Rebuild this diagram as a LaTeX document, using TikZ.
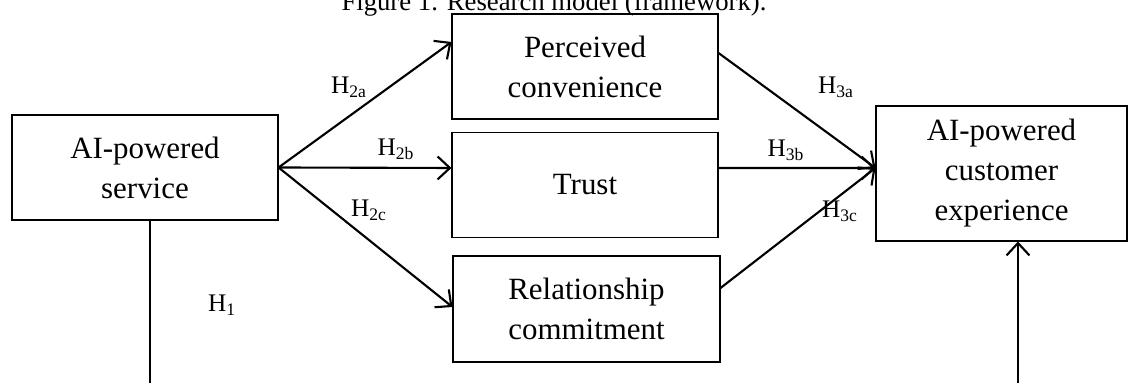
\documentclass[tikz,border=0pt]{standalone}
\usepackage{fontspec}
\setmainfont{Liberation Serif}
\usetikzlibrary{arrows.meta}

\begin{document}
\begin{tikzpicture}[
        every node/.style={font=\fontsize{17.6}{22.8}\selectfont},
        box/.style={draw, line width=0.6pt, align=center, minimum width=5.32cm, minimum height=2.1cm, inner sep=0pt},
        link/.style={-{Straight Barb[length=7pt, width=13pt, line width=1.2pt]}, line width=1.2pt},
        hyp/.style={font=\fontsize{14.4}{16}\selectfont}
    ]

    \useasboundingbox (0,0) rectangle (22.56,7.66);

    % Title, cut off by the top edge
    \node[anchor=base, font=\fontsize{15.2}{18}\selectfont] (title) at (11.08,7.44) {Figure 1. Research model (framework).};

    % Boxes
    \node[box] (svc) at (2.90,4.31) {AI-powered\\service};
    \node[box] (conv) at (11.70,6.33) {Perceived\\convenience};
    \node[box] (trust) at (11.70,3.96) {Trust};
    \node[box, minimum width=5.34cm, minimum height=2.12cm] (commit) at (11.73,1.48) {Relationship\\commitment};
    \node[box, minimum width=5.02cm, minimum height=2.7cm] (cx) at (20.03,4.19) {AI-powered\\customer\\experience};

    % Paths through the mediators
    \draw[link] (svc.east) -- ([yshift=0.49cm]conv.west);
    \draw[link] (svc.east) -- ([yshift=0.34cm]trust.west);
    \draw[link] (svc.east) -- ([yshift=0.04cm]commit.west);
    \draw[link] ([yshift=0.27cm]conv.east) -- ([yshift=0.11cm]cx.west);
    \draw[link] ([yshift=0.34cm]trust.east) -- ([yshift=0.11cm]cx.west);
    \draw[link] ([yshift=0.42cm]commit.east) -- ([yshift=0.11cm]cx.west);

    % Direct path, running below the frame
    \coordinate (svcfoot) at (3.00,0);
    \coordinate (cxfoot) at (20.36,0);
    \draw[line width=0.8pt] (svcfoot |- svc.south) -- (svcfoot);
    \draw[link] (cxfoot) -- (cxfoot |- cx.south);

    % Hypothesis labels
    \node[hyp] (h1) at (4.44,1.56) {H\textsubscript{1}};
    \node[hyp] (h2a) at (6.98,5.92) {H\textsubscript{2a}};
    \node[hyp] (h2b) at (7.92,4.68) {H\textsubscript{2b}};
    \node[hyp] (h2c) at (7.38,3.46) {H\textsubscript{2c}};
    \node[hyp] (h3a) at (16.72,5.92) {H\textsubscript{3a}};
    \node[hyp] (h3b) at (15.72,4.66) {H\textsubscript{3b}};
    \node[hyp] (h3c) at (16.80,3.44) {H\textsubscript{3c}};

\end{tikzpicture}
\end{document}
